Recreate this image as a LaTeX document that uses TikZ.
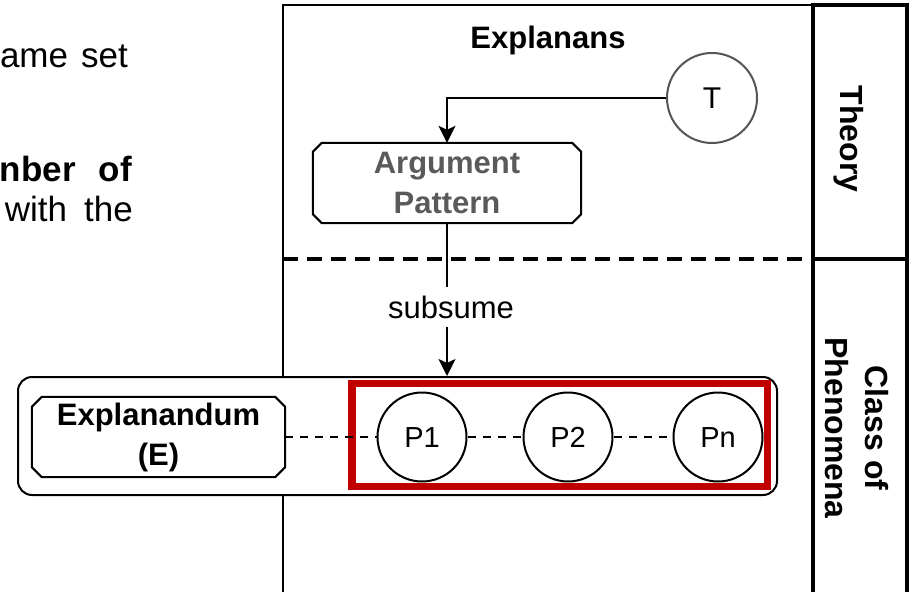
\documentclass[tikz,border=0pt]{standalone}
\usepackage{fontspec}
\setmainfont{Liberation Sans}
\usetikzlibrary{arrows.meta}

\definecolor{markred}{HTML}{C00000}
\definecolor{patterngray}{HTML}{5A5A5A}
\definecolor{ringgray}{HTML}{555555}

% outline of a box with cut corners, drawn round a named node
\newcommand\drawchamfer[2]{%
  \draw[boxline] ([xshift=#2]#1.north west) -- ([xshift=-#2]#1.north east)
    -- ([yshift=-#2]#1.north east) -- ([yshift=#2]#1.south east)
    -- ([xshift=-#2]#1.south east) -- ([xshift=#2]#1.south west)
    -- ([yshift=#2]#1.south west) -- ([yshift=-#2]#1.north west) -- cycle;}

\begin{document}
\begin{tikzpicture}[x=1pt, y=-1pt,
  frameline/.style={line width=2.7pt},
  colline/.style={line width=3.2pt},
  sepdash/.style={line width=3.5pt, dash pattern=on 15pt off 9pt},
  boxline/.style={line width=2pt, black},
  head/.style={font=\fontsize{31}{40}\selectfont\bfseries},
  side/.style={font=\fontsize{32}{40}\selectfont\bfseries},
  bodytext/.style={font=\fontsize{35}{41}\selectfont, anchor=base east, inner sep=0pt},
  ring/.style={circle, draw=ringgray, line width=2pt, minimum size=90pt,
    inner sep=0pt, font=\fontsize{30}{36}\selectfont},
  pcirc/.style={circle, draw, line width=2pt, fill=white, minimum size=89pt,
    inner sep=0pt, text height=21pt, text depth=0pt, font=\fontsize{29}{34}\selectfont},
  link/.style={line width=2pt, dash pattern=on 8pt off 7pt},
  arr/.style={line width=2pt, -{Stealth[length=17pt, width=17pt, inset=4pt]}}]

\useasboundingbox (0,0) rectangle (909,591);
\clip (0,0) rectangle (909,591);

% running text at the left edge
\node[bodytext] (l1) at (128,68) {ame\hspace{13pt}set};
\node[bodytext] (l2) at (132,181) {\bfseries nber\hspace{23pt}of};
\node[bodytext] (l3) at (133,221) {with\hspace{17pt}the};

% frame and side column
\draw[frameline] (283,600) -- (283,5) -- (813,5);
\draw[colline] (813,600) -- (813,5) -- (907,5) -- (907,600);
\draw[line width=3.5pt] (813,259) -- (907,259);
\draw[sepdash] (283,259) -- (813,259);

% explanans part
\node[head, anchor=base] (explanans) at (548,49) {Explanans};
\node[ring] (T) at (712,98) {T};
\node[head, text=patterngray, minimum width=268pt, minimum height=80pt,
  inner sep=0pt, align=center] (ap) at (447,183) {Argument\\Pattern};
\drawchamfer{ap}{9pt}
\draw[arr] (T.west) -| (ap.north);

% class of phenomena
\node[draw, line width=2pt, fill=white, rounded corners=14pt,
  minimum width=759pt, minimum height=118pt, inner sep=0pt] (cont) at (397.5,436) {};
\node[draw=markred, line width=7.5pt, minimum width=415.5pt, minimum height=103pt,
  inner sep=0pt] (sel) at (559.75,435) {};
\node[head, minimum width=253pt, minimum height=80pt, inner sep=0pt,
  align=center] (E) at (158.5,437) {Explanandum\\(E)};
\drawchamfer{E}{10pt}
\node[pcirc] (p1) at (422,437) {P1};
\node[pcirc] (p2) at (568,437) {P2};
\node[pcirc] (pn) at (718,437) {Pn};
\draw[link] (E.east) -- (p1.west);
\draw[link] (p1.east) -- (p2.west);
\draw[link] (p2.east) -- (pn.west);

% subsumption
\node[font=\fontsize{31}{37}\selectfont, anchor=base, inner sep=8pt] (sub) at (451,318) {subsume};
\draw[boxline] (ap.south) -- (ap.south |- sub.north);
\draw[arr] (ap.south |- sub.south) -- (ap.south |- cont.north);

% side column labels
\node[side, rotate=-90] (theory) at (849,139) {Theory};
\node[side, rotate=-90, align=center] (class) at (857,428) {Class of\\Phenomena};
\end{tikzpicture}
\end{document}
